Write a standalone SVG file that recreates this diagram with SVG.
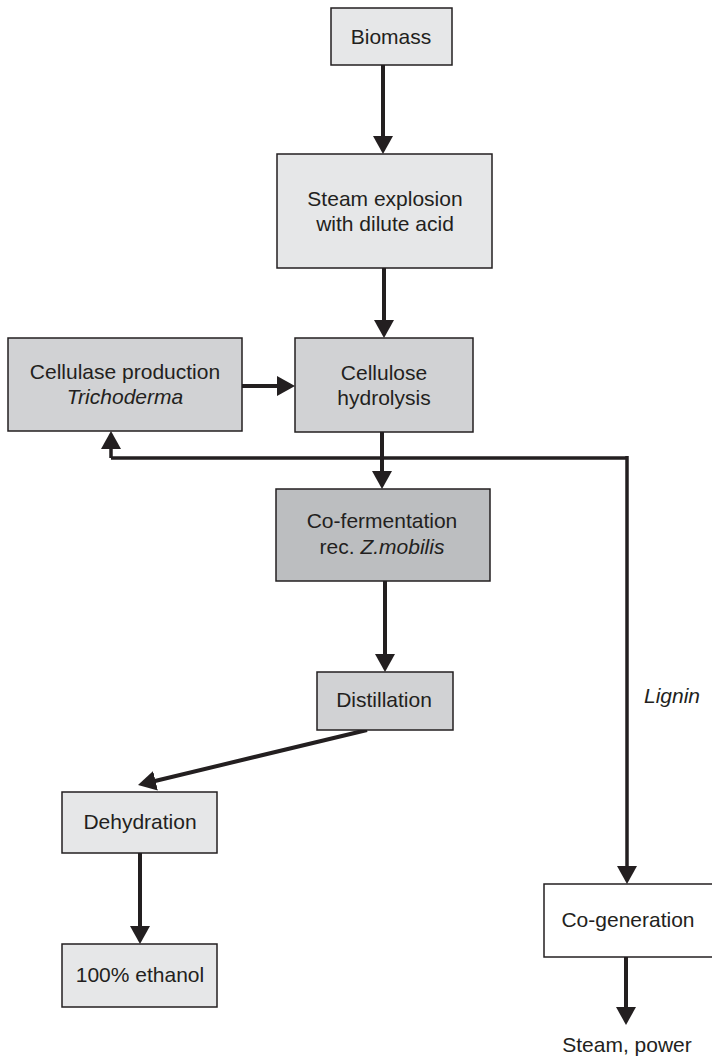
<svg xmlns="http://www.w3.org/2000/svg" width="712" height="1057" viewBox="0 0 712 1057">
  <style>
    .box { stroke: #231f20; stroke-width: 1.5; }
    .light { fill: #e6e7e8; }
    .mid { fill: #d1d2d4; }
    .dark { fill: #bcbec0; }
    .white { fill: #ffffff; }
    text { font-family: "Liberation Sans", Arial, sans-serif; font-size: 21px; fill: #231f20; text-anchor: middle; }
    .it { font-style: italic; }
    .conn { fill: none; stroke: #231f20; stroke-width: 4; stroke-linejoin: miter; marker-end: url(#arrow); }
    .link { fill: none; stroke: #231f20; stroke-width: 3.5; }
  </style>
  <defs>
    <marker id="arrow" markerUnits="userSpaceOnUse" markerWidth="20" markerHeight="20" refX="8" refY="10" orient="auto">
      <path d="M0,0 L18,10 L0,20 z" fill="#231f20"/>
    </marker>
  </defs>

  <rect width="712" height="1057" fill="#ffffff"/>

  <g id="connectors">
    <path class="conn" d="M383,65 L383,144"/>
    <path class="conn" d="M384,268 L384,328"/>
    <path class="conn" d="M242,386 L285,386"/>
    <path class="conn" d="M382,432 L382,479"/>
    <path class="conn" d="M385,581 L385,662"/>
    <path class="conn" d="M367,730 L147.7,782.7"/>
    <path class="conn" d="M140,853 L140,934"/>
    <path class="conn" d="M626,957 L626,1015"/>
    <path class="link" d="M111,458 L627,458"/>
    <path class="conn" style="stroke-width:3.5" d="M111,458 L111,441"/>
    <path class="conn" style="stroke-width:3.5" d="M627,456 L627,874"/>
    <text class="it" x="672" y="703">Lignin</text>
  </g>

  <g id="biomass">
    <rect class="box light" x="331" y="8" width="121" height="57"/>
    <text x="391" y="44">Biomass</text>
  </g>

  <g id="steam-explosion">
    <rect class="box light" x="277" y="154" width="215" height="114"/>
    <text x="385" y="206">Steam explosion</text>
    <text x="385" y="231">with dilute acid</text>
  </g>

  <g id="cellulase-production">
    <rect class="box mid" x="8" y="338" width="234" height="93"/>
    <text x="125" y="379">Cellulase production</text>
    <text class="it" x="125" y="404">Trichoderma</text>
  </g>

  <g id="cellulose-hydrolysis">
    <rect class="box mid" x="295" y="338" width="178" height="94"/>
    <text x="384" y="380">Cellulose</text>
    <text x="384" y="405">hydrolysis</text>
  </g>

  <g id="co-fermentation">
    <rect class="box dark" x="276" y="489" width="214" height="92"/>
    <text x="382" y="528">Co-fermentation</text>
    <text x="382" y="554">rec. <tspan class="it">Z.mobilis</tspan></text>
  </g>

  <g id="distillation">
    <rect class="box mid" x="317" y="672" width="136" height="58"/>
    <text x="384" y="707">Distillation</text>
  </g>

  <g id="dehydration">
    <rect class="box light" x="62" y="792" width="155" height="61"/>
    <text x="140" y="829">Dehydration</text>
  </g>

  <g id="ethanol">
    <rect class="box light" x="62" y="944" width="155" height="63"/>
    <text x="140" y="982">100% ethanol</text>
  </g>

  <g id="co-generation">
    <rect class="box white" x="544" y="884" width="170" height="73"/>
    <text x="628" y="927">Co-generation</text>
  </g>

  <g id="steam-power">
    <text x="627" y="1052">Steam, power</text>
  </g>
</svg>
